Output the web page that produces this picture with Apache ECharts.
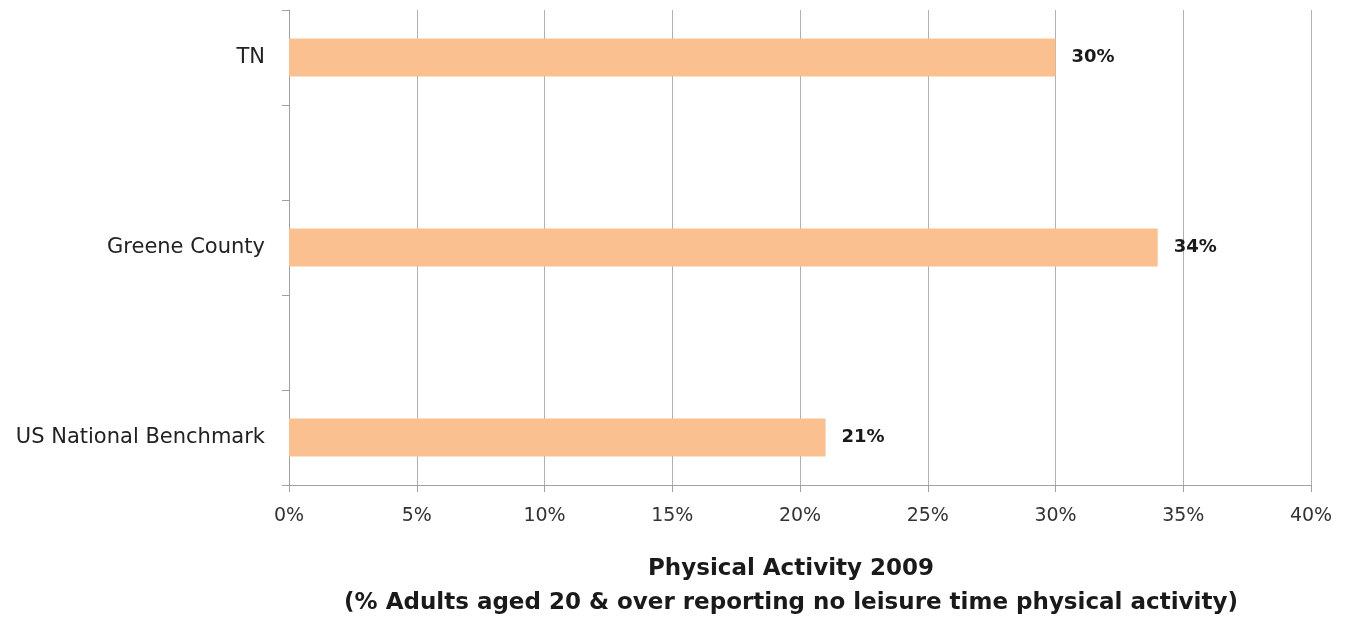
<!DOCTYPE html>
<html>
<head>
<meta charset="utf-8">
<script src="https://cdn.jsdelivr.net/npm/echarts@6/dist/echarts.min.js"></script>
<style>
  html, body { margin: 0; padding: 0; background: #fff; }
  #chart { width: 1348px; height: 617px; }
</style>
</head>
<body>
<div id="chart"></div>
<script>
// categories bottom to top; blank slots are the empty bands in the original
const categories = ['US National Benchmark', '', 'Greene County', '', 'TN'];
const values = [0.21, null, 0.34, null, 0.30];
const xTicks = { min: 0, max: 0.4, step: 0.05 };
const titleLines = ['Physical Activity 2009', '(% Adults aged 20 & over reporting no leisure time physical activity)'];

const chart = echarts.init(document.getElementById('chart'));
const pct = v => Math.round(v * 100) + '%';

chart.setOption({
  animation: false,
  title: {
    text: titleLines.join('\n'),
    left: 786,
    top: 547,
    textAlign: 'center',
    textStyle: {
      fontFamily: 'DejaVu Sans',
      fontWeight: 'bold',
      fontSize: 23,
      lineHeight: 34,
      color: '#1a1a1a'
    }
  },
  grid: { left: 289, right: 37, top: 10, bottom: 132 },
  xAxis: {
    type: 'value',
    min: xTicks.min,
    max: xTicks.max,
    interval: xTicks.step,
    axisLine: { show: true, lineStyle: { color: '#a0a0a0', width: 1 } },
    axisTick: { show: true, length: 7, lineStyle: { color: '#a0a0a0' } },
    axisLabel: {
      formatter: pct,
      margin: 22,
      fontFamily: 'DejaVu Sans',
      fontSize: 19,
      color: '#333'
    },
    splitLine: { show: true, lineStyle: { color: '#b0b0b0', width: 1 } }
  },
  yAxis: {
    type: 'category',
    data: categories,
    axisLine: { show: true, lineStyle: { color: '#a0a0a0', width: 1 } },
    axisTick: { show: true, length: 7, lineStyle: { color: '#a0a0a0' } },
    axisLabel: {
      margin: 24,
      fontFamily: 'DejaVu Sans',
      fontSize: 21,
      color: '#222'
    },
    splitLine: { show: false }
  },
  series: [{
    type: 'bar',
    data: values,
    barWidth: 38,
    itemStyle: { color: '#FAC090' },
    label: {
      show: true,
      position: 'right',
      distance: 16,
      formatter: p => pct(p.value),
      fontFamily: 'DejaVu Sans',
      fontWeight: 'bold',
      fontSize: 18,
      color: '#1a1a1a'
    }
  }]
});
</script>
</body>
</html>
